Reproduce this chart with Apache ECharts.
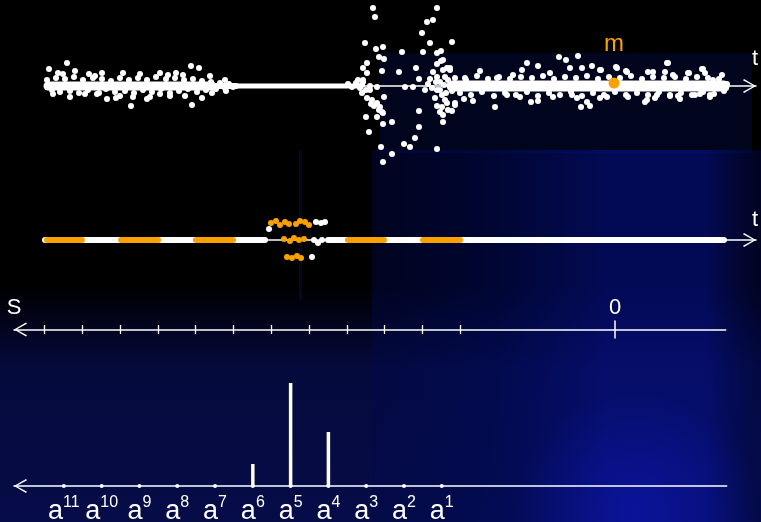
<!DOCTYPE html>
<html><head><meta charset="utf-8">
<script src="https://cdn.jsdelivr.net/npm/echarts@6/dist/echarts.min.js"></script>
<style>html,body{margin:0;padding:0;background:#000}#c{width:761px;height:522px}</style>
</head><body><div id="c"></div>
<script>
// ---------- data (t, amplitude) ----------
const leftBand = [
[49,17],[67,23],[75,15],[63,12],[89,12],[102,13],[123,13],[160,13],[168,11],[183,11],[191,20],[199,18],[210,10],
[131,-20],[133,-11],[147,-13],[107,-13],[116,-12],[192,-19],[202,-12],[170,-10],[70,-11],[53,-8],[85,-8],[160,-8],
[212,-7],[99,-7],[58,13],[95,10],[140,12],[176,13],[150,-11],[120,-10],[185,-10],[225,6],[226,-5],
[47,6],[52,-4],[56,8],[60,-6],[65,7],[70,-5],[74,9],[79,-7],[83,6],[88,-4],[93,8],[97,-8],[102,7],[106,-3],
[111,5],[115,-6],[120,8],[125,-5],[129,6],[134,-7],[138,8],[143,-4],[147,6],[152,-6],[156,9],[161,-3],[166,7],
[170,-7],[175,8],[179,-5],[184,6],[188,-3],[193,7],[197,-6],[202,5],[206,-4],[211,4],[216,-3],[220,3],[225,-2],
[229,2],[233,-1]
];
const burstPoints = [
[373,78],[375,69],[365,43],[376,37],[383,39],[379,29],[384,27],[367,23],[363,18],[367,13],[382,15],[363,6],[362,1],
[370,-4],[367,-12],[372,-14],[377,-17],[380,-21],[384,-11],[382,-26],[377,-31],[366,-31],[383,-27],[383,-38],
[392,-36],[369,-46],[381,-61],[392,-68],[383,-76],[365,-79],[377,-1],[374,-20],[379,-24],[371,-18],
[348,2],[352,-1],[356,3],[360,-2],[363,4],[366,-4],[370,0],[358,6],[362,-7],
[402,34],[399,14],[416,18],[419,7],[405,-1],[413,-1],[419,-25],[419,-41],[415,-52],[404,-58],[410,-61],[407,-78],
[437,78],[433,66],[427,64],[422,53],[430,43],[452,44],[423,34],[437,33],[441,35],[437,22],[441,25],[443,16],
[447,18],[450,16],[433,14],[437,9],[445,9],[440,4],[437,-4],[442,-9],[435,-12],[445,-14],[437,-20],[442,-21],
[447,-17],[455,-17],[452,-25],[440,-26],[443,-29],[443,-36],[437,-63],[437,-78],[443,26],[448,-24],
[428,2],[432,-2],[436,4],[440,-4],[444,1],[448,6],[452,-5],[456,0],[430,7],[446,-7],[425,-4]
];
const rightBand = [
[480,15],[495,-21],[527,23],[522,16],[538,20],[531,-16],[538,-15],[550,13],[559,29],[566,26],[578,30],[570,18],
[582,18],[581,-21],[590,-20],[601,16],[616,19],[626,15],[628,-11],[645,-16],[655,-12],[668,23],[680,-13],[689,13],
[703,17],[700,-8],[710,-11],[722,11],[464,-13],[473,-15],[507,-9],[553,-11],[577,-12],[607,-11],[497,8],[513,11],
[653,14],[673,11],[713,6],[465,8],[450,18],[455,-19],[587,-16],[520,-11],[572,-9],[592,20],[600,16],[617,18],
[627,14],[648,14],[667,23],[665,14],[688,13],[702,17],[705,13],[600,-12],[647,-14],[657,-9],[678,-10],[695,-9],
[670,-9],[710,-9],
[455,8],[460,-7],[466,6],[471,-9],[477,10],[482,-6],[488,7],[494,-10],[499,9],[505,-7],[510,7],[516,-9],[521,9],
[527,-6],[532,8],[538,-10],[543,10],[549,-7],[554,7],[560,-9],[565,9],[571,-6],[576,8],[582,-10],[587,10],[593,-7],
[598,7],[604,-9],[609,9],[615,-6],[620,8],[626,-9],[631,10],[637,-7],[642,7],[648,-9],[653,9],[659,-6],[664,8],
[670,-10],[675,9],[681,-7],[686,7],[692,-9],[697,9],[703,-6],[708,8],[714,-8],[719,7],[724,-5],[727,2],[726,-2]
];
// dense core of the signal: [from t, to t]
const signalCore = [[48,212],[205,236],[230,360],[452,724]];
const marker = [614,3];
const markerName = 'm';

// middle strip: segments on the t axis
const stripWhite = [[45,265],[328,724]];
const stripOrange = [[47,82],[121,158],[196,233],[348,384],[423,460]];
const gapOrange = [[271,17],[276,19],[280,15],[285,18],[289,16],[296,16],[300,19],[305,18],[309,15],
                   [284,1],[290,-1],[294,2],[299,0],[304,1],[287,-17],[292,-18],[297,-16],[301,-18]];
const gapWhite = [[316,18],[321,17],[325,18],[269,11],[314,0],[318,-3],[322,0],[312,-17]];

// scale axis
const sTicks = [4.1,5.1,6.1,7.1,8.1,9.1,10.1,11.1,12.1,13.1,14.1,15.1];
const sLabels = [[0,'0'],[15.91,'S']];

// coefficients per exponent a^k
const exponents = [1,2,3,4,5,6,7,8,9,10,11];
const coefficients = [0,0,0,54,103,22,0,0,0,0,0];

// ---------- chart ----------
const WHITE = '#ffffff', ORANGE = '#f9a100', FONT = 'Liberation Sans, Arial, sans-serif';
const chevron = 'path://M7,0 L14,12 L12.8,13 L7,2.4 L1.2,13 L0,12 Z';
const coreWidths = [9, 6, 5, 11];
const hidden = {show:false};
const lineAxisBase = (grid, extra) => Object.assign({
  type:'value', gridIndex:grid, axisTick:hidden, axisLabel:hidden, splitLine:hidden
}, extra);
const tAxis = (grid, pad) => lineAxisBase(grid, {
  min:45, max:756,
  axisLine:{show:true, onZero:true, lineStyle:{color:WHITE,width:1.5},
            symbol:['none',chevron], symbolSize:[14,13], symbolOffset:[0,-6.5]},
  name:'t', nameLocation:'end', nameGap:-1,
  nameTextStyle:{color:WHITE, fontSize:22, fontFamily:FONT, align:'center', verticalAlign:'bottom', padding:[0,0,pad,0]}
});
const sRange = {min:-2.93, max:15.91, inverse:true};
const dot = (size, color) => ({symbolSize:size, itemStyle:{color:color, opacity:1}});
const gridBase = {outerBoundsMode:'none', containLabel:false};

const chart = echarts.init(document.getElementById('c'), null, {renderer:'canvas'});
const option = {
  backgroundColor:'#000',
  animation:false,
  graphic:[
    {type:'rect', z:-100, silent:true, shape:{x:380,y:53,width:372,height:100},
     style:{fill:'rgba(0,8,50,0.6)'}},
    {type:'rect', z:-100, silent:true, shape:{x:0,y:285,width:761,height:237},
     style:{fill:{type:'linear',x:0,y:0,x2:0,y2:1,colorStops:[
       {offset:0,color:'rgba(3,6,40,0)'},{offset:0.2,color:'rgba(3,6,45,0.8)'},
       {offset:0.35,color:'rgba(5,10,60,1)'},{offset:1,color:'rgba(6,12,72,1)'}]}}},
    {type:'rect', z:-99, silent:true, shape:{x:372,y:150,width:389,height:372},
     style:{fill:{type:'linear',x:0,y:0,x2:1,y2:0,colorStops:[
       {offset:0,color:'rgba(0,8,70,0.45)'},{offset:0.3,color:'rgba(0,10,90,0.55)'},
       {offset:0.6,color:'rgba(5,15,130,0.65)'},{offset:0.86,color:'rgba(5,15,130,0.65)'},
       {offset:1,color:'rgba(0,8,70,0.45)'}]}}},
    {type:'rect', z:-98, silent:true, shape:{x:372,y:300,width:389,height:222},
     style:{fill:{type:'radial',x:0.68,y:0.95,r:0.55,colorStops:[
       {offset:0,color:'rgba(15,25,190,0.55)'},{offset:1,color:'rgba(15,25,190,0)'}]}}},
    {type:'rect', z:-98, silent:true, shape:{x:299,y:150,width:3,height:150},
     style:{fill:'rgba(20,30,120,0.25)'}}
  ],
  grid:[
    Object.assign({left:45, right:5, top:6, height:157}, gridBase),
    Object.assign({left:45, right:5, top:215, height:50}, gridBase),
    Object.assign({left:14, right:35.3, top:321, height:17}, gridBase),
    Object.assign({left:14, right:34.3, top:376, height:110}, gridBase)
  ],
  xAxis:[
    tAxis(0, 16),
    tAxis(1, 9),
    lineAxisBase(2, Object.assign({}, sRange, {
      axisLine:{show:true, onZero:true, onZeroAxisIndex:2, lineStyle:{color:WHITE,width:1.5},
                symbol:[chevron,'none'], symbolSize:[14,13], symbolOffset:[6.5,0]},
      axisTick:{show:true, customValues:sTicks, length:4.5, lineStyle:{color:WHITE,width:1.3}}
    })),
    lineAxisBase(2, Object.assign({}, sRange, {
      position:'top',
      axisLine:{show:false, onZero:true, onZeroAxisIndex:3},
      axisTick:{show:true, customValues:sTicks, length:4.5, lineStyle:{color:WHITE,width:1.3}},
      axisLabel:{show:true, customValues:sLabels.map(d=>d[0]), margin:2,
        formatter:(v)=>{const f=sLabels.find(d=>Math.abs(d[0]-v)<1e-6); return f?f[1]:'';},
        color:WHITE, fontSize:22, fontFamily:FONT}
    })),
    lineAxisBase(3, {
      min:-6.54, max:12.32, inverse:true,
      axisLine:{show:true, onZero:true, lineStyle:{color:WHITE,width:1.5},
                symbol:[chevron,'none'], symbolSize:[14,13], symbolOffset:[6.5,0]},
      axisLabel:{show:true, customValues:exponents, margin:9,
        formatter:(v)=>'{b|a}{s|'+v+'}',
        rich:{
          b:{fontSize:27, lineHeight:30, color:WHITE, fontFamily:FONT, verticalAlign:'bottom'},
          s:{fontSize:16, lineHeight:14, color:WHITE, fontFamily:FONT, verticalAlign:'top'}
        }}
    })
  ],
  yAxis:[
    {type:'value', gridIndex:0, min:-77, max:80, show:false},
    {type:'value', gridIndex:1, min:-25, max:25, show:false},
    {type:'value', gridIndex:2, min:-8.5, max:8.5, axisLine:{show:true,onZero:true,lineStyle:{color:WHITE,width:1.5}},
     axisTick:hidden, axisLabel:hidden, splitLine:hidden},
    {type:'value', gridIndex:2, min:-8.5, max:8.5, show:false},
    {type:'value', gridIndex:3, min:0, max:110, show:false}
  ],
  series:[].concat(
    signalCore.map((seg,i)=>({
      type:'line', xAxisIndex:0, yAxisIndex:0, silent:true, symbol:'none', z:2,
      data:[[seg[0],0],[seg[1],0]],
      lineStyle:{color:WHITE, width:coreWidths[i], cap:'round'}
    })),
    [Object.assign({type:'scatter', xAxisIndex:0, yAxisIndex:0, silent:true, clip:true, z:3,
      data:leftBand.concat(burstPoints, rightBand)}, dot(6, WHITE)),
     Object.assign({type:'scatter', xAxisIndex:0, yAxisIndex:0, silent:true, clip:false, z:6,
      data:[marker],
      label:{show:true, position:'top', distance:21, formatter:markerName, color:ORANGE, fontSize:24, fontFamily:FONT}},
      dot(11, ORANGE))],
    stripWhite.map(seg=>({
      type:'line', xAxisIndex:1, yAxisIndex:1, silent:true, symbol:'none', z:2,
      data:[[seg[0],0],[seg[1],0]], lineStyle:{color:WHITE, width:6, cap:'round'}
    })),
    stripOrange.map(seg=>({
      type:'line', xAxisIndex:1, yAxisIndex:1, silent:true, symbol:'none', z:3,
      data:[[seg[0],0],[seg[1],0]], lineStyle:{color:ORANGE, width:6, cap:'round'}
    })),
    [Object.assign({type:'scatter', xAxisIndex:1, yAxisIndex:1, silent:true, z:4, data:gapWhite}, dot(6, WHITE)),
     Object.assign({type:'scatter', xAxisIndex:1, yAxisIndex:1, silent:true, z:4, data:gapOrange}, dot(6, ORANGE)),
     {type:'bar', xAxisIndex:4, yAxisIndex:4, silent:true, barWidth:3.5, itemStyle:{color:WHITE},
      data:exponents.map((k,i)=>[k,coefficients[i]])},
     Object.assign({type:'scatter', xAxisIndex:4, yAxisIndex:4, silent:true, z:4,
      data:exponents.map(k=>[k,0])}, dot(4, WHITE))]
  )
};
chart.setOption(option);
</script></body></html>
